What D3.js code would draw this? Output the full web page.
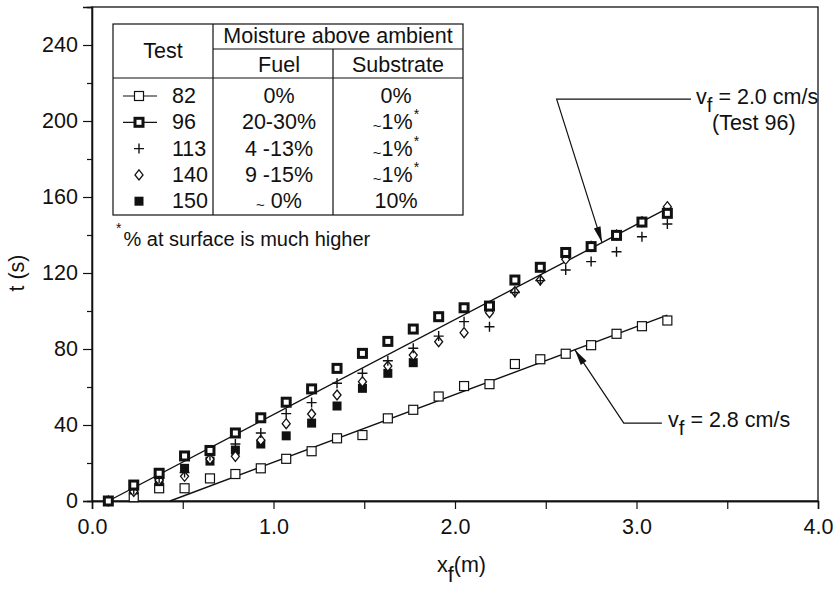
<!DOCTYPE html>
<html><head><meta charset="utf-8">
<script src="https://cdn.jsdelivr.net/npm/d3@7"></script>
<style>body{margin:0;background:#fff}text{font-family:"Liberation Sans",Arial,Helvetica,sans-serif;fill:#111}</style>
</head><body>
<svg id="chart" width="837" height="591"></svg>
<script>
// Front position (m) at which each arrival time was recorded
const xPos = [0.09,0.23,0.37,0.51,0.65,0.79,0.93,1.07,1.21,1.35,1.49,1.63,1.77,1.91,2.05,2.19,2.33,2.47,2.61,2.75,2.89,3.03,3.17];
// Arrival time t (s) for each test
const test82  = [null,2,6.7,6.7,11.9,14.2,17.2,22.2,26.2,33,34.7,43.5,48,55,60.5,61.5,72.1,74.6,77.5,82,88,92,95];
const test96  = [0,8.4,14.6,23.7,26.6,35.8,43.8,52,59,69.8,77.7,84,90.5,97,101.7,102.6,116.3,123,130.8,133.9,139.8,146.8,151.4];
const test113 = [0,6,12,15,24,30,35.8,46,51.8,62,67.2,73.8,80.4,86.8,94.4,91.7,109.7,116,121.6,126,131.2,139.1,145.8];
const test140 = [0,5,11,13,22,23.5,32,40.7,45.8,55.8,62.8,71,76.8,83.8,88.6,99.1,110.2,116.3,127.2,134,140,147,154.9];
const test150 = [0,5.8,10.2,17.2,21,26.8,30,34.3,41,50,59.3,67.2,72.8];

// Spread-rate fits: velocity (cm/s), ignition offset x0 (m), end of fit (m)
const fitVel   = [2.0, 2.8];
const fitStart = [0.09, 0.43];
const fitEnd   = [3.17, 3.17];

// Legend table rows
const legTests = ["82","96","113","140","150"];
const legFuel  = ["0%","20-30%","4 -13%","9 -15%","~ 0%"];
const legSub   = ["0%","~1%","~1%","~1%","10%"];
const legStar  = [false,true,true,true,false];

const xTicks = [0,1,2,3,4];
const xMinor = [0.5,1.5,2.5,3.5];
const yTicks = [0,40,80,120,160,200,240];
const yMinor = [20,60,100,140,180,220];

const svg = d3.select("#chart");
const L = 92, R = 818, T = 7, B = 501;
const x = d3.scaleLinear().domain([0,4]).range([L,R]);
const y = d3.scaleLinear().domain([0,260]).range([B,T]);
const FS = 21.5;

// frame
svg.append("rect").attr("x",L).attr("y",T).attr("width",R-L).attr("height",B-T)
  .attr("fill","none").attr("stroke","#111").attr("stroke-width",1.3);

// axes
const gx = svg.append("g").attr("transform",`translate(0,${B})`)
  .call(d3.axisBottom(x).tickValues(xTicks).tickSize(8).tickFormat(d3.format(".1f")));
svg.append("g").attr("transform",`translate(0,${B})`)
  .call(d3.axisBottom(x).tickValues(xMinor).tickSize(8).tickFormat(""));
const gy = svg.append("g").attr("transform",`translate(${L},0)`)
  .call(d3.axisLeft(y).tickValues(yTicks).tickSize(9));
svg.append("g").attr("transform",`translate(${L},0)`)
  .call(d3.axisLeft(y).tickValues(yMinor).tickSize(5).tickFormat(""));
svg.selectAll(".domain").attr("stroke","#111").attr("stroke-width",1.3);
svg.selectAll(".tick line").attr("stroke","#111").attr("stroke-width",1.2);
svg.selectAll(".tick text").attr("font-size",FS).attr("fill","#111")
  .style("font-family",'"Liberation Sans",Arial,sans-serif');
gx.selectAll(".tick text").attr("dy","1.0em");
gy.selectAll(".tick text").attr("dx","-0.1em");

// axis titles
svg.append("text").attr("transform",`translate(24,${y(120)}) rotate(-90)`)
  .attr("text-anchor","middle").attr("font-size",FS).text("t (s)");
const xt = svg.append("text").attr("x",(L+R)/2-18).attr("y",572).attr("font-size",FS);
xt.append("tspan").text("x");
xt.append("tspan").attr("dy",10).attr("font-size",FS).text("f");
xt.append("tspan").attr("dy",-10).text("(m)");

// fitted spread lines
fitVel.forEach((v,i) => {
  const slope = 100 / v;
  svg.append("line")
    .attr("x1",x(fitStart[i])).attr("y1",y(0))
    .attr("x2",x(fitEnd[i])).attr("y2",y(slope*(fitEnd[i]-fitStart[i])))
    .attr("stroke","#111").attr("stroke-width",1.4);
});

// marker shapes
function mk(g, type, cx, cy) {
  if (type === "open") {
    g.append("rect").attr("x",cx-4.5).attr("y",cy-4.5).attr("width",9).attr("height",9)
      .attr("fill","#fff").attr("stroke","#111").attr("stroke-width",1.2);
  } else if (type === "bold") {
    g.append("rect").attr("x",cx-4).attr("y",cy-4).attr("width",8).attr("height",8)
      .attr("fill","#fff").attr("stroke","#111").attr("stroke-width",3);
  } else if (type === "plus") {
    g.append("path").attr("d",`M${cx-5},${cy}H${cx+5}M${cx},${cy-5}V${cy+5}`)
      .attr("stroke","#111").attr("stroke-width",1.4);
  } else if (type === "diamond") {
    g.append("path").attr("d",`M${cx},${cy-5}L${cx+4},${cy}L${cx},${cy+5}L${cx-4},${cy}Z`)
      .attr("fill","#fff").attr("stroke","#111").attr("stroke-width",1.3);
  } else if (type === "filled") {
    g.append("rect").attr("x",cx-4.5).attr("y",cy-4.5).attr("width",9).attr("height",9)
      .attr("fill","#111");
  }
}

const series = [
  {vals:test82, type:"open"},
  {vals:test150, type:"filled"},
  {vals:test140, type:"diamond"},
  {vals:test113, type:"plus"},
  {vals:test96, type:"bold"}
];
const gm = svg.append("g");
series.forEach(s => {
  s.vals.forEach((v,i) => {
    if (v === null || v === undefined) return;
    mk(gm, s.type, x(xPos[i]), y(v));
  });
});

// annotations with arrows
function arrow(tipX, tipY, fromX, fromY) {
  const ang = Math.atan2(tipY-fromY, tipX-fromX);
  const len = 16, hw = 3.5;
  const bx = tipX - len*Math.cos(ang), by = tipY - len*Math.sin(ang);
  const px = -Math.sin(ang)*hw, py = Math.cos(ang)*hw;
  svg.append("path").attr("d",`M${tipX},${tipY}L${bx+px},${by+py}L${bx-px},${by-py}Z`).attr("fill","#111");
}
function annotate(tipXv, fitIdx, cornerXv, cornerTv, leaderEndXv) {
  const tipT = 100/fitVel[fitIdx]*(tipXv-fitStart[fitIdx]);
  const tx = x(tipXv), ty = y(tipT), cx = x(cornerXv), cy = y(cornerTv);
  svg.append("path").attr("d",`M${x(leaderEndXv)},${cy}H${cx}L${tx},${ty}`)
    .attr("fill","none").attr("stroke","#111").attr("stroke-width",1.2);
  arrow(tx, ty, cx, cy);
}
annotate(2.81, 0, 2.56, 211.5, 3.30);
annotate(2.66, 1, 2.93, 41, 3.14);

function vLabel(px, py, rest) {
  const t = svg.append("text").attr("x",px).attr("y",py).attr("font-size",FS);
  t.append("tspan").text("v");
  t.append("tspan").attr("dy",8).attr("font-size",FS*0.95).text("f");
  t.append("tspan").attr("dy",-8).text(" = " + rest);
  return t;
}
vLabel(696, 104, "2.0 cm/s");
svg.append("text").attr("x",712).attr("y",130).attr("font-size",FS).text("(Test 96)");
vLabel(668, y(39), "2.8 cm/s");

// legend table
const tb = {l:113, r:463, t:24, b:215, c1:213, c2:333, h1:49, h2:78};
const lg = svg.append("g");
lg.append("rect").attr("x",tb.l).attr("y",tb.t).attr("width",tb.r-tb.l).attr("height",tb.b-tb.t)
  .attr("fill","#fff").attr("stroke","#111").attr("stroke-width",1.2);
lg.append("path").attr("d",
  `M${tb.c1},${tb.t}V${tb.b}M${tb.c2},${tb.h1}V${tb.b}M${tb.c1},${tb.h1}H${tb.r}M${tb.l},${tb.h2}H${tb.r}`)
  .attr("stroke","#111").attr("stroke-width",1.2).attr("fill","none");
lg.append("text").attr("x",(tb.l+tb.c1)/2).attr("y",58).attr("text-anchor","middle").attr("font-size",FS).text("Test");
lg.append("text").attr("x",(tb.c1+tb.r)/2).attr("y",43).attr("text-anchor","middle").attr("font-size",FS).text("Moisture above ambient");
lg.append("text").attr("x",(tb.c1+tb.c2)/2+6).attr("y",72).attr("text-anchor","middle").attr("font-size",FS).text("Fuel");
lg.append("text").attr("x",(tb.c2+tb.r)/2).attr("y",72).attr("text-anchor","middle").attr("font-size",FS).text("Substrate");

const legTypes = ["open","bold","plus","diamond","filled"];
legTests.forEach((name,i) => {
  const by = 103 + i*26.3;
  const cy = by - 7;
  if (i < 2) {
    lg.append("line").attr("x1",123).attr("x2",157).attr("y1",cy).attr("y2",cy)
      .attr("stroke","#111").attr("stroke-width",1.2);
  }
  mk(lg, legTypes[i], 139, cy);
  lg.append("text").attr("x",172).attr("y",by).attr("font-size",FS).text(name);
  const f = lg.append("text").attr("x",279).attr("y",by).attr("text-anchor","middle").attr("font-size",FS);
  if (legFuel[i].startsWith("~")) {
    f.append("tspan").attr("font-size",15).attr("dy",2).text("~");
    f.append("tspan").attr("dy",-2).text(" " + legFuel[i].slice(1).trim());
  } else f.text(legFuel[i]);
  // substrate value with a raised footnote mark where it applies
  const s = lg.append("text").attr("x",396).attr("y",by).attr("text-anchor","middle").attr("font-size",FS);
  if (legSub[i].startsWith("~")) {
    s.append("tspan").attr("font-size",15).attr("dy",2).text("~");
    s.append("tspan").attr("dy",-2).text(legSub[i].slice(1));
  } else s.text(legSub[i]);
  if (legStar[i]) {
    s.append("tspan").attr("font-size",14).attr("dy",-10).attr("dx",1).text("*");
  }
});
const fn = svg.append("text").attr("x",116).attr("y",246).attr("font-size",20);
fn.append("tspan").attr("font-size",14).attr("dy",-13).text("*");
fn.append("tspan").attr("dy",13).attr("dx",2).text("% at surface is much higher");
</script>
</body></html>
